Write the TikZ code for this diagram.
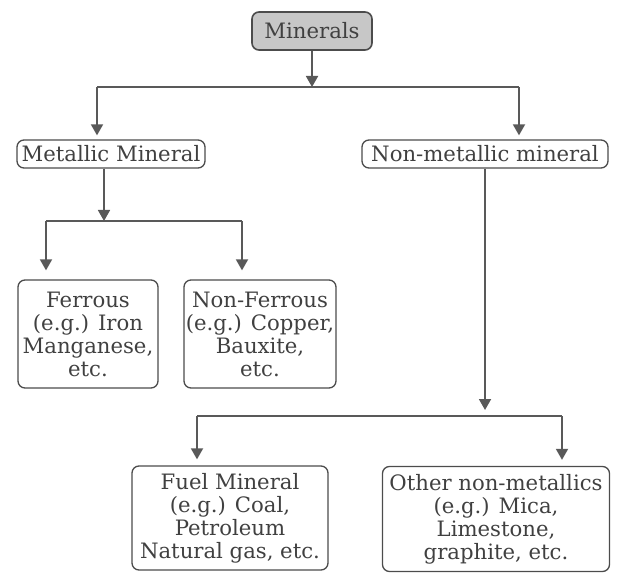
\documentclass[tikz,border=0pt]{standalone}
\usepackage{fontspec}
\setmainfont{DejaVu Serif}
\usetikzlibrary{arrows.meta}

\tikzset{
  box/.style={draw=black!70, line width=1.3pt, rounded corners=7pt, inner sep=0pt,
              align=center, text=black!75, font=\fontsize{21.2}{23}\selectfont},
  link/.style={draw=black!65, line width=1.8pt},
  arr/.style={link, -{Triangle[length=11pt,width=12pt]}}
}

\begin{document}
\begin{tikzpicture}[x=1pt,y=-1pt]
    \useasboundingbox (0,0) rectangle (620,577);
    % boxes
    \node[box, fill=black!22, line width=1.6pt, minimum width=120pt, minimum height=38pt] (min) at (312,31) {Minerals};
    \node[box, minimum width=188pt, minimum height=28pt] (met) at (111,154) {Metallic Mineral};
    \node[box, minimum width=246pt, minimum height=28pt] (non) at (485,154) {Non-metallic mineral};
    \node[box, minimum width=140pt, minimum height=108pt] (fer) at (88,334) {Ferrous\\(e.g.) Iron\\Manganese,\\etc.};
    \node[box, minimum width=152pt, minimum height=108pt] (nfer) at (260,334) {Non-Ferrous\\(e.g.) Copper,\\Bauxite,\\etc.};
    \node[box, minimum width=196pt, minimum height=104pt] (fuel) at (230,518) {Fuel Mineral\\(e.g.) Coal,\\Petroleum\\Natural gas, etc.};
    \node[box, minimum width=227pt, minimum height=105pt] (oth) at (496,519) {Other non-metallics\\(e.g.) Mica,\\Limestone,\\graphite, etc.};
    % bars
    \coordinate (b1) at (312,87);  \coordinate (b1l) at (97,87);  \coordinate (b1r) at (519,87);
    \coordinate (b2) at (104,221); \coordinate (b2l) at (46,221); \coordinate (b2r) at (242,221);
    \coordinate (b3) at (485,416); \coordinate (b3l) at (197,416); \coordinate (b3r) at (562,416);
    \draw[arr] (min) -- (b1);
    \draw[link] (b1l) -- (b1r);
    \draw[arr] (b1l) -- ([yshift=4pt]b1l |- met.north);
    \draw[arr] (b1r) -- ([yshift=4pt]b1r |- non.north);
    \draw[arr] (met.south -| b2) -- (b2);
    \draw[link] (b2l) -- (b2r);
    \draw[arr] (b2l) -- ([yshift=9pt]b2l |- fer.north);
    \draw[arr] (b2r) -- ([yshift=9pt]b2r |- nfer.north);
    \draw[arr] (non) -- ([yshift=6pt]b3);
    \draw[link] (b3l) -- (b3r);
    \draw[arr] (b3l) -- ([yshift=6pt]b3l |- fuel.north);
    \draw[arr] (b3r) -- ([yshift=6pt]b3r |- oth.north);
\end{tikzpicture}
\end{document}
